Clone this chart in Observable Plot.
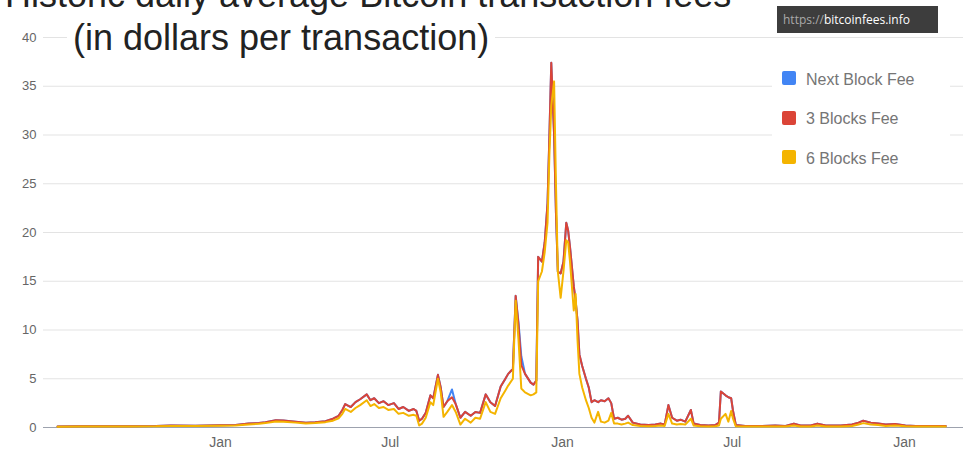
<!DOCTYPE html>
<html>
<head>
<meta charset="utf-8">
<script src="https://cdn.jsdelivr.net/npm/d3@7"></script>
<script src="https://cdn.jsdelivr.net/npm/@observablehq/plot@0.6"></script>
<style>
  body { margin: 0; background: #fff; }
  #wrap { position: relative; width: 963px; height: 455px; overflow: hidden; font-family: Arial, "Liberation Sans", sans-serif; }
  #chart { position: absolute; left: 0; top: 0; }
  .title { position: absolute; font-size: 36px; line-height: 36px; color: #222; background: #fff; white-space: nowrap; }
  #wm { position: absolute; left: 777px; top: 6px; width: 161px; height: 27px; background: #3d3d3d; font-family: "Open Sans", sans-serif; font-size: 12px; line-height: 27px; color: #fff; box-sizing: border-box; padding-left: 6px; white-space: nowrap; }
  #wm span { color: #aaa; }
  #legend { position: absolute; left: 772px; top: 60px; width: 178px; height: 115px; background: #fff; }
  .sw { position: absolute; width: 14px; height: 14px; border-radius: 2px; }
  .lt { position: absolute; font-size: 16px; line-height: 16px; color: #757575; white-space: nowrap; }
  #chart svg g[aria-label="x-axis tick label"] text { font-size: 14px; }
</style>
</head>
<body>
<div id="wrap">
  <div id="chart"></div>
  <div class="title" style="left:5px; top:-23px;">Historic daily average Bitcoin transaction fees</div>
  <div class="title" style="left:67px; top:20px; padding:0 6px;">(in dollars per transaction)</div>
  <div id="wm"><span>https://</span>bitcoinfees.info</div>
  <div id="legend"></div>
</div>
<script>
const dates = ["2016-07-11","2016-08-05","2016-08-31","2016-09-27","2016-10-24","2016-11-09","2016-12-05","2017-01-01","2017-01-17","2017-01-31",
"2017-02-11","2017-02-18","2017-03-01","2017-03-09","2017-03-22","2017-04-02","2017-04-12","2017-04-23","2017-05-01","2017-05-07",
"2017-05-11","2017-05-14","2017-05-20","2017-05-25","2017-05-30","2017-06-06","2017-06-10","2017-06-14","2017-06-19","2017-06-24",
"2017-06-29","2017-07-05","2017-07-10","2017-07-15","2017-07-21","2017-07-26","2017-07-29","2017-08-01","2017-08-04","2017-08-08",
"2017-08-13","2017-08-16","2017-08-21","2017-08-24","2017-08-27","2017-08-31","2017-09-05","2017-09-09","2017-09-14","2017-09-19",
"2017-09-25","2017-09-30","2017-10-05","2017-10-11","2017-10-16","2017-10-21","2017-10-27","2017-11-01","2017-11-04","2017-11-09",
"2017-11-12","2017-11-15","2017-11-18","2017-11-22","2017-11-28","2017-12-01","2017-12-04","2017-12-06","2017-12-10","2017-12-13",
"2017-12-16","2017-12-18","2017-12-20","2017-12-23","2017-12-25","2017-12-27","2017-12-30","2018-01-02","2018-01-05","2018-01-07",
"2018-01-09","2018-01-13","2018-01-15","2018-01-17","2018-01-19","2018-01-22","2018-01-26","2018-01-29","2018-02-01","2018-02-04",
"2018-02-08","2018-02-11","2018-02-15","2018-02-19","2018-02-22","2018-02-25","2018-03-01","2018-03-05","2018-03-09","2018-03-12",
"2018-03-17","2018-03-25","2018-04-03","2018-04-10","2018-04-16","2018-04-20","2018-04-24","2018-04-28","2018-05-03","2018-05-07",
"2018-05-12","2018-05-18","2018-05-21","2018-05-28","2018-06-06","2018-06-13","2018-06-17","2018-06-19","2018-06-24","2018-06-27",
"2018-06-30","2018-07-02","2018-07-05","2018-07-15","2018-07-31","2018-08-16","2018-08-27","2018-09-05","2018-09-12","2018-09-23",
"2018-09-30","2018-10-09","2018-10-25","2018-11-06","2018-11-13","2018-11-18","2018-11-26","2018-12-04","2018-12-12","2018-12-22",
"2019-01-02","2019-01-13","2019-01-29","2019-02-14"];

const nextBlockFee = [0.10,0.12,0.12,0.13,0.15,0.20,0.18,0.22,0.25,0.40,
0.45,0.55,0.75,0.72,0.60,0.50,0.55,0.65,0.90,1.20,
1.80,2.40,2.10,2.60,2.90,3.40,2.80,3.00,2.50,2.70,
2.30,2.50,1.90,2.10,1.70,1.90,1.70,0.70,0.90,1.50,
3.30,3.00,5.40,4.10,2.10,2.70,3.90,2.40,1.00,1.60,
1.20,1.60,1.50,3.40,2.60,2.20,4.20,5.00,5.50,6.00,
13.5,10.8,7.30,5.50,4.60,4.40,4.80,17.5,17.0,19.0,
23.0,30.0,37.4,30.0,22.0,16.0,15.8,17.0,21.0,20.2,
18.5,14.5,13.0,11.0,7.50,6.30,5.00,4.10,2.60,2.80,
2.60,2.80,2.70,3.00,2.50,0.90,1.00,0.80,0.90,1.20,
0.50,0.30,0.25,0.30,0.40,0.30,2.30,1.00,0.70,0.80,
0.60,1.80,0.40,0.25,0.20,0.25,0.50,3.70,3.30,3.10,
3.00,1.70,0.25,0.15,0.15,0.20,0.15,0.40,0.20,0.20,
0.40,0.20,0.20,0.30,0.50,0.70,0.50,0.40,0.30,0.35,
0.20,0.15,0.15,0.15];

const threeBlocksFee = [0.10,0.12,0.12,0.13,0.15,0.20,0.18,0.22,0.25,0.40,
0.45,0.55,0.75,0.72,0.60,0.50,0.55,0.65,0.90,1.20,
1.80,2.40,2.10,2.60,2.90,3.40,2.80,3.00,2.50,2.70,
2.30,2.50,1.90,2.10,1.70,1.90,1.70,0.70,0.90,1.50,
3.30,3.00,5.40,4.10,2.10,2.70,3.10,2.40,1.00,1.60,
1.20,1.60,1.50,3.40,2.60,2.20,4.20,5.00,5.50,6.00,
13.5,10.5,6.40,5.50,4.60,4.40,4.80,17.5,17.0,19.0,
23.0,30.0,37.4,30.0,22.0,16.0,15.8,17.0,21.0,20.2,
18.5,14.5,13.0,11.0,7.50,6.30,5.00,4.10,2.60,2.80,
2.60,2.80,2.70,3.00,2.50,0.90,1.00,0.80,0.90,1.20,
0.50,0.30,0.25,0.30,0.40,0.30,2.30,1.00,0.70,0.80,
0.60,1.80,0.40,0.25,0.20,0.25,0.50,3.70,3.30,3.10,
3.00,1.70,0.25,0.15,0.15,0.20,0.15,0.40,0.20,0.20,
0.40,0.20,0.20,0.30,0.50,0.70,0.50,0.40,0.30,0.35,
0.20,0.15,0.15,0.15];

const sixBlocksFee = [0.08,0.10,0.10,0.11,0.12,0.16,0.15,0.18,0.20,0.32,
0.38,0.45,0.62,0.60,0.50,0.42,0.45,0.55,0.70,0.95,
1.40,1.90,1.60,2.00,2.30,2.80,2.20,2.40,2.00,2.10,
1.80,1.90,1.40,1.50,1.20,1.30,1.20,0.20,0.40,1.00,
2.60,2.30,5.00,3.60,1.10,1.60,2.30,1.60,0.30,0.90,
0.50,1.00,0.90,2.60,1.60,1.40,3.00,3.80,4.30,5.00,
13.0,9.00,4.00,3.60,3.30,3.40,3.60,15.0,16.0,18.0,
21.0,28.0,33.0,35.5,25.0,16.0,13.3,16.0,19.2,19.0,
17.0,12.0,13.7,9.00,5.50,4.10,2.80,2.00,1.00,0.50,
1.60,0.60,0.50,0.70,1.50,0.40,0.40,0.30,0.40,0.50,
0.25,0.15,0.12,0.15,0.20,0.15,1.40,0.40,0.30,0.35,
0.30,0.90,0.20,0.12,0.10,0.12,0.20,0.90,1.40,0.60,
1.70,0.90,0.12,0.10,0.10,0.10,0.10,0.20,0.10,0.10,
0.20,0.10,0.10,0.15,0.30,0.45,0.30,0.25,0.15,0.20,
0.12,0.10,0.10,0.10];

const seriesNames = ["Next Block Fee", "3 Blocks Fee", "6 Blocks Fee"];
const seriesColors = ["#4285f4", "#db4437", "#f4b400"];
const yTicks = [0, 5, 10, 15, 20, 25, 30, 35, 40];
const xTickDates = ["2017-01-01", "2017-07-01", "2018-01-01", "2018-07-01", "2019-01-01"];
const xTickLabels = ["Jan", "Jul", "Jan", "Jul", "Jan"];
const xDomain = ["2016-06-26", "2019-03-05"];

const seriesValues = [nextBlockFee, threeBlocksFee, sixBlocksFee];
const rows = seriesValues.map((vals) => dates.map((d, i) => ({date: new Date(d), fee: vals[i]})));
const tickDates = xTickDates.map(d => new Date(d));
const labelMap = new Map(tickDates.map((d, i) => [+d, xTickLabels[i]]));

const chart = Plot.plot({
  width: 963,
  height: 455,
  marginTop: 37,
  marginBottom: 28,
  marginLeft: 43,
  marginRight: 0,
  style: {fontFamily: "Arial, 'Liberation Sans', sans-serif", fontSize: "13px", color: "#666", background: "#fff", overflow: "visible"},
  x: {type: "utc", domain: xDomain.map(d => new Date(d)), ticks: tickDates, tickFormat: d => labelMap.get(+d), tickSize: 0, tickPadding: 10, label: null},
  y: {domain: [0, 40], ticks: yTicks, tickSize: 0, tickPadding: 7, label: null},
  marks: [
    Plot.gridY(yTicks, {stroke: "#e3e3e3", strokeOpacity: 1}),
    Plot.ruleY([0], {stroke: "#9da2ae"}),
    ...rows.map((r, k) => Plot.line(r, {x: "date", y: "fee", stroke: seriesColors[k], strokeWidth: 2, strokeLinejoin: "round"}))
  ]
});
document.getElementById("chart").appendChild(chart);

const legend = document.getElementById("legend");
seriesNames.forEach((name, k) => {
  const sw = document.createElement("div");
  sw.className = "sw";
  sw.style.left = "10px";
  sw.style.top = (11 + k * 39.5) + "px";
  sw.style.background = seriesColors[k];
  legend.appendChild(sw);
  const t = document.createElement("div");
  t.className = "lt";
  t.style.left = "34px";
  t.style.top = (11.5 + k * 39.5) + "px";
  t.textContent = name;
  legend.appendChild(t);
});
</script>
</body>
</html>
